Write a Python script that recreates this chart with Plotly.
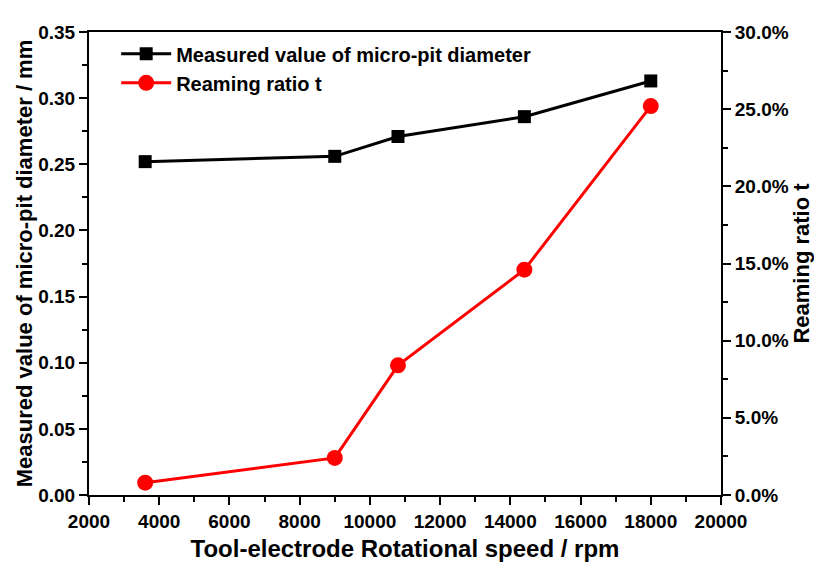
import plotly.graph_objects as go

speed = [3600, 9000, 10800, 14400, 18000]
diameter = [0.252, 0.256, 0.271, 0.286, 0.313]
reaming = [0.8, 2.4, 8.4, 14.6, 25.2]
x_ticks = [2000, 4000, 6000, 8000, 10000, 12000, 14000, 16000, 18000, 20000]

FONT = "Liberation Sans, Arial, sans-serif"

fig = go.Figure()
fig.add_trace(go.Scatter(
    x=speed, y=diameter, name="Measured value of micro-pit diameter",
    mode="lines+markers",
    line=dict(color="black", width=3),
    marker=dict(symbol="square", size=13, color="black"),
))
fig.add_trace(go.Scatter(
    x=speed, y=reaming, name="Reaming ratio t", yaxis="y2",
    mode="lines+markers",
    line=dict(color="#ff0000", width=3),
    marker=dict(symbol="circle", size=16, color="#ff0000"),
))

axis_common = dict(
    showline=True, linecolor="black", linewidth=2,
    ticks="outside", ticklen=8, tickwidth=2, tickcolor="black",
    showgrid=False, zeroline=False, automargin=False,
    tickfont=dict(family=FONT, size=19, color="black", weight="bold"),
)

fig.update_layout(
    width=822, height=564,
    margin=dict(l=81, r=109, t=24, b=77),
    paper_bgcolor="white", plot_bgcolor="white",
    showlegend=True,
    legend=dict(x=0.043, y=0.995, xanchor="left", yanchor="top", itemwidth=50,
                bgcolor="rgba(0,0,0,0)", tracegroupgap=0,
                font=dict(family=FONT, size=20, color="black", weight="bold")),
    xaxis=dict(
        range=[2000, 20000], tickvals=x_ticks, tickformat="d",
        minor=dict(dtick=1000, ticklen=5, tickwidth=2, tickcolor="black", ticks="outside"),
        mirror=True,
        title=dict(text="Tool-electrode Rotational speed / rpm", standoff=9,
                   font=dict(family=FONT, size=24, color="black", weight="bold")),
        **axis_common,
    ),
    yaxis=dict(
        range=[0, 0.35], dtick=0.05, tickformat=".2f",
        minor=dict(dtick=0.025, ticklen=5, tickwidth=2, tickcolor="black", ticks="outside"),
        title=dict(text="Measured value of micro-pit diameter / mm", standoff=0,
                   font=dict(family=FONT, size=22, color="black", weight="bold")),
        **axis_common,
    ),
    yaxis2=dict(
        range=[0, 30], dtick=5, tickformat=".1f", ticksuffix="%",
        overlaying="y", side="right", anchor="x",
        minor=dict(dtick=2.5, ticklen=5, tickwidth=2, tickcolor="black", ticks="outside"),
        title=dict(text="Reaming ratio t", standoff=6,
                   font=dict(family=FONT, size=22, color="black", weight="bold")),
        **axis_common,
    ),
)

fig.write_html("out.html")
